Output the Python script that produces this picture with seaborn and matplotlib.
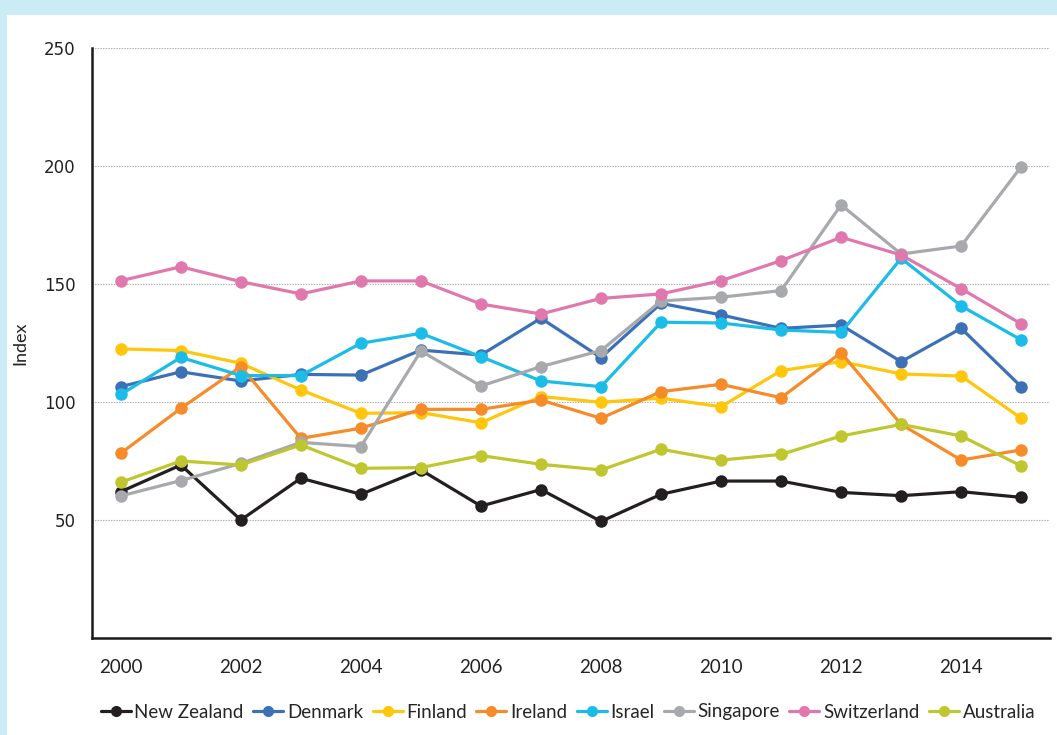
import matplotlib
matplotlib.use("Agg")
import matplotlib.pyplot as plt
from matplotlib.patches import Rectangle
from matplotlib.lines import Line2D
import seaborn as sns
import pandas as pd

years = list(range(2000, 2016))
countries = ["New Zealand", "Denmark", "Finland", "Ireland", "Israel",
             "Singapore", "Switzerland", "Australia"]
new_zealand = [62.0, 73.3, 50.0, 67.7, 60.9, 71.2, 55.9, 62.9, 49.4, 60.9, 66.5, 66.5, 61.7, 60.3, 62.0, 59.6]
denmark = [106.5, 112.8, 108.9, 111.7, 111.4, 122.0, 119.9, 135.5, 118.8, 141.8, 136.9, 131.2, 132.6, 117.1, 131.2, 106.5]
finland = [122.5, 121.8, 116.4, 105.1, 95.2, 95.5, 91.2, 102.3, 99.9, 101.6, 98.0, 113.3, 117.1, 111.9, 111.0, 93.1]
ireland = [78.3, 97.3, 115.0, 84.6, 88.9, 96.9, 96.9, 100.8, 93.1, 104.4, 107.5, 101.8, 120.9, 90.5, 75.4, 79.7]
israel = [103.2, 118.9, 111.2, 111.2, 124.9, 129.1, 119.2, 108.9, 106.5, 133.8, 133.5, 130.5, 129.5, 160.9, 140.7, 126.3]
singapore = [60.2, 66.7, 74.0, 82.9, 81.1, 121.6, 106.8, 115.0, 121.8, 142.8, 144.4, 147.2, 183.5, 162.7, 166.1, 199.7]
switzerland = [151.4, 157.3, 151.0, 145.8, 151.3, 151.3, 141.5, 137.3, 143.9, 145.8, 151.4, 159.9, 169.8, 162.3, 148.0, 133.1]
australia = [66.0, 75.0, 73.3, 81.8, 71.9, 72.2, 77.3, 73.6, 71.2, 80.0, 75.4, 77.8, 85.6, 90.5, 85.6, 72.9]
series = [new_zealand, denmark, finland, ireland, israel, singapore, switzerland, australia]
colors = ["#231F20", "#3C71B7", "#FFC60B", "#F68B2A", "#1BBCE8",
          "#A7A9AC", "#E078AE", "#BFC62E"]
x_ticks = [2000, 2002, 2004, 2006, 2008, 2010, 2012, 2014]
y_ticks = [50, 100, 150, 200, 250]

rows = []
for c, vals in zip(countries, series):
    for y, v in zip(years, vals):
        rows.append({"Year": y, "Country": c, "Index": v})
df = pd.DataFrame(rows)

sns.set_theme(style="white")
narrow = ["Lato", "DejaVu Sans"]
plt.rcParams["font.family"] = ["DejaVu Sans"]

fig = plt.figure(figsize=(10.57, 7.35), dpi=100)
fig.patch.set_facecolor("white")
# light blue frame (top band and left strip)
fig.patches.append(Rectangle((0, 1 - 15 / 735), 1, 15 / 735, transform=fig.transFigure,
                             facecolor="#CBEBF7", edgecolor="none", zorder=0))
fig.patches.append(Rectangle((0, 0), 7 / 1057, 1, transform=fig.transFigure,
                             facecolor="#CBEBF7", edgecolor="none", zorder=0))

ax = fig.add_axes([92 / 1057, 1 - 638 / 735, (1050 - 92) / 1057, (638 - 48) / 735])
sns.lineplot(data=df, x="Year", y="Index", hue="Country", hue_order=countries,
             palette=colors, marker="o", markersize=9, markeredgewidth=0,
             linewidth=2.3, ax=ax, legend=False)

ax.set_xlim(1999.52, 2015.48)
ax.set_ylim(0, 250)
ax.set_xticks(x_ticks)
ax.set_xticklabels([str(t) for t in x_ticks], family=narrow, fontsize=13.5)
ax.set_yticks(y_ticks)
ax.set_yticklabels([str(t) for t in y_ticks], fontsize=12, color="#222222")
ax.tick_params(axis="x", length=0, pad=15, colors="#222222")
ax.tick_params(axis="y", length=0, pad=12)
ax.set_xlabel("")
ax.set_ylabel("Index", family=narrow, fontsize=13, color="#222222")
ax.yaxis.set_label_coords((28 - 92) / (1050 - 92), 0.5)
for yv in y_ticks:
    ax.axhline(yv, color="#A8A8A8", linewidth=0.8, linestyle=(0, (1.2, 1.2)), zorder=0)
ax.grid(False)
for s in ["top", "right"]:
    ax.spines[s].set_visible(False)
for s in ["left", "bottom"]:
    ax.spines[s].set_color("#1A1A1A")
    ax.spines[s].set_linewidth(1.8)

handles = [Line2D([0], [0], color=c, marker="o", markersize=8, markeredgewidth=0,
                  linewidth=2.3) for c in colors]
fig.legend(handles, countries, loc="center", bbox_to_anchor=(568 / 1057, 1 - 712 / 735),
           ncol=8, frameon=False, handlelength=1.6, handletextpad=0.2,
           columnspacing=0.5, prop={"family": narrow, "size": 13.5})

fig.savefig("out.png", dpi=100)
